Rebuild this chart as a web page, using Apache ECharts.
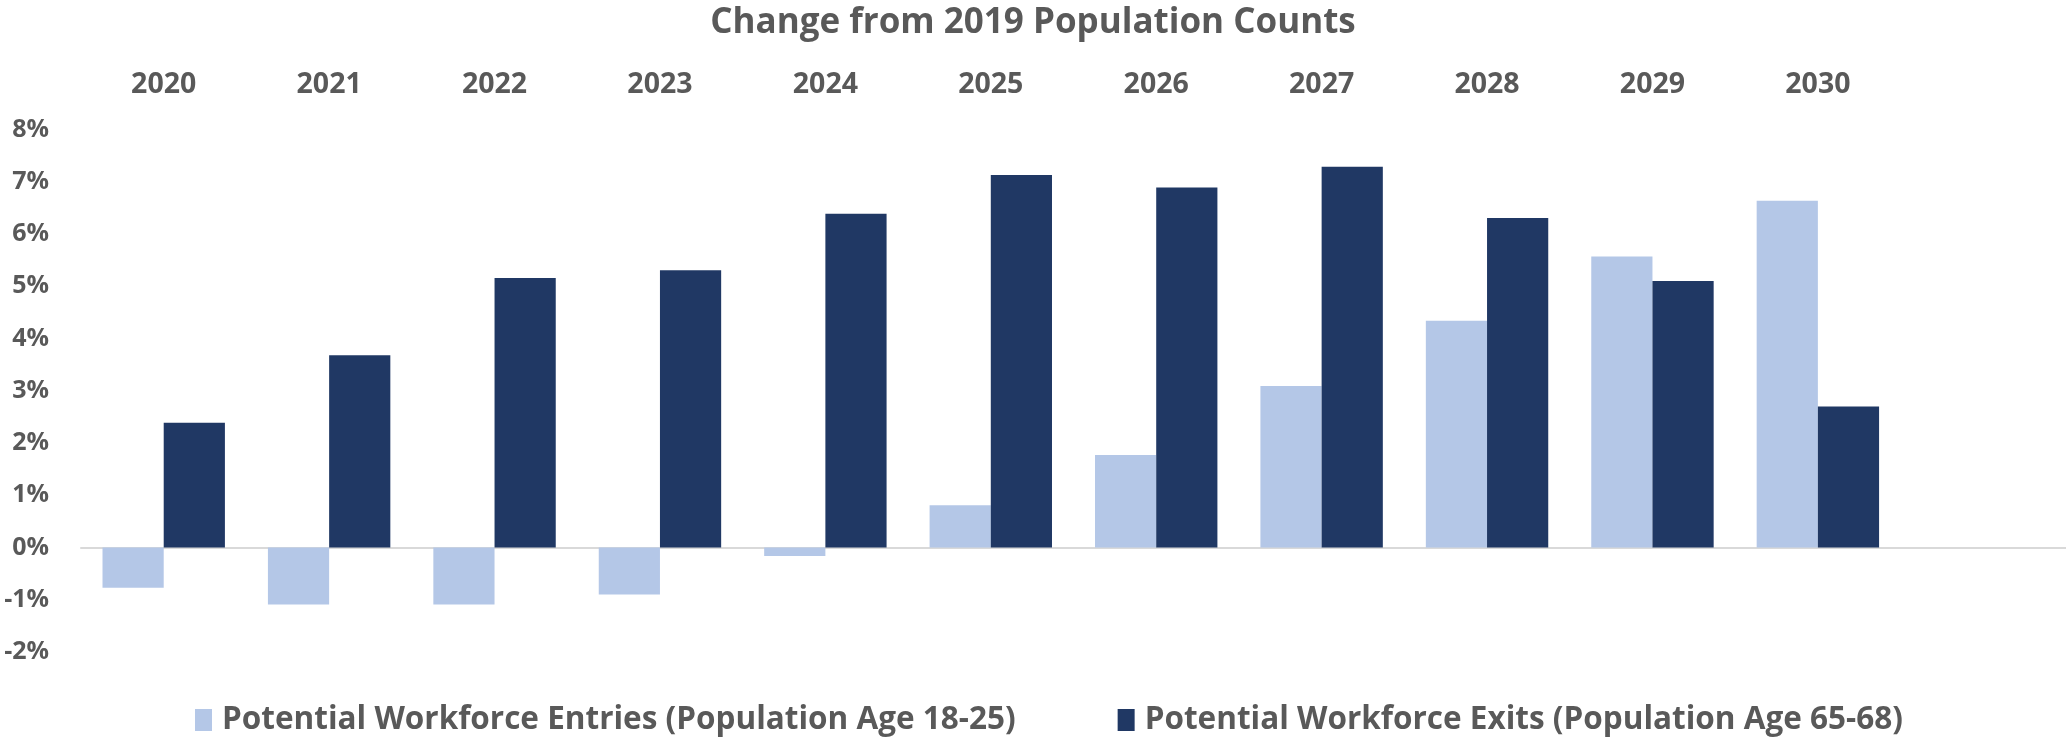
<!DOCTYPE html>
<html>
<head>
<meta charset="utf-8">
<script src="https://cdn.jsdelivr.net/npm/echarts@6/dist/echarts.min.js"></script>
<style>
html,body{margin:0;padding:0;background:#fff;}
#chart{width:2066px;height:739px;}
</style>
</head>
<body>
<div id="chart"></div>
<script>
const categories = ['2020','2021','2022','2023','2024','2025','2026','2027','2028','2029','2030',''];
const entries = [-0.77, -1.09, -1.09, -0.90, -0.16, 0.81, 1.77, 3.09, 4.34, 5.57, 6.64];
const exits = [2.39, 3.68, 5.16, 5.31, 6.39, 7.13, 6.89, 7.29, 6.31, 5.10, 2.70];
const titleText = 'Change from 2019 Population Counts';
const seriesNames = ['Potential Workforce Entries (Population Age 18-25)', 'Potential Workforce Exits (Population Age 65-68)'];

const font = 'Open Sans';
const gray = '#595959';
const chart = echarts.init(document.getElementById('chart'));
chart.setOption({
  animation: false,
  backgroundColor: '#fff',
  title: {
    text: titleText, left: 'center', top: 1,
    textStyle: {fontFamily: font, fontWeight: 'bold', fontSize: 35, color: gray}
  },
  legend: {
    left: 190, top: 699, itemWidth: 17, itemHeight: 22, itemGap: 102,
    icon: 'rect',
    textStyle: {fontFamily: font, fontWeight: 'bold', fontSize: 31.5, color: gray, padding: [0,0,0,5]},
    data: seriesNames
  },
  grid: {left: 81, right: 0, top: 129.6, bottom: 87, containLabel: false},
  xAxis: [{
    type: 'category', data: categories, position: 'top',
    axisLine: {show: false, onZero: false}, axisTick: {show: false},
    axisLabel: {fontFamily: font, fontWeight: 'bold', fontSize: 28.5, color: gray, margin: 30}
  },{
    type: 'category', data: categories, position: 'bottom',
    axisLine: {show: true, onZero: true, lineStyle: {color: '#d9d9d9', width: 2}},
    axisTick: {show: false}, axisLabel: {show: false}
  }],
  yAxis: {
    type: 'value', min: -2, max: 8, interval: 1,
    splitLine: {show: false}, axisLine: {show: false}, axisTick: {show: false},
    axisLabel: {formatter: '{value}%', fontFamily: font, fontWeight: 'bold', fontSize: 25, color: gray, margin: 32}
  },
  series: [{
    name: seriesNames[0], type: 'bar', data: entries, barGap: '0%', barCategoryGap: '26%',
    itemStyle: {color: '#b4c7e7'}
  },{
    name: seriesNames[1], type: 'bar', data: exits, barGap: '0%', barCategoryGap: '26%',
    itemStyle: {color: '#203864'}
  }]
});
</script>
</body>
</html>
